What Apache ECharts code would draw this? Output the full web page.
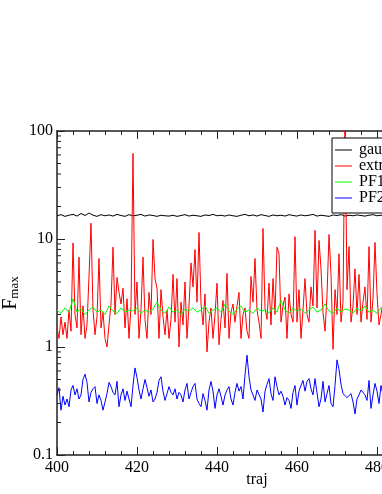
<!DOCTYPE html>
<html><head><meta charset="utf-8">
<script src="https://cdn.jsdelivr.net/npm/echarts@6/dist/echarts.min.js"></script>
<style>html,body{margin:0;padding:0;background:#fff}#c{width:382px;height:494px}</style>
</head><body><div id="c"></div>
<script>
const seriesNames = ['gaussian', 'extreme', 'PF1', 'PF2'];
const xTickLabels = [400, 420, 440, 460, 480, 500];
const yTickLabels = [0.1, 1, 10, 100];
const yMinorTicks = [0.2,0.3,0.4,0.5,0.6,0.7,0.8,0.9,2,3,4,5,6,7,8,9,20,30,40,50,60,70,80,90];
const trajStart = 400;
const stepFine = 0.5;   // red and blue sampled every half traj
const stepCoarse = 1;   // black and green sampled every traj

const gaussian = [16.4,16.8,16.2,16.6,16.9,16.3,17.2,16.5,17.4,16.6,16.2,16.8,16.4,16.7,16.3,16.9,16.5,16.2,16.8,16.4,
16.6,16.9,16.3,16.7,16.5,16.2,16.6,16.4,16.3,16.6,16.2,16.5,16.8,16.3,16.6,16.4,16.2,16.7,16.5,16.9,
16.4,16.6,16.3,16.7,16.4,16.2,16.6,16.9,16.4,16.7,16.3,16.8,16.5,16.2,16.7,16.4,16.6,16.3,16.8,16.5,
16.3,16.7,16.4,16.6,16.9,16.3,16.6,16.4,16.2,16.7,16.5,16.8,16.3,16.6,16.4,16.7,16.5,16.3,16.6,16.8,
16.4,16.6,16.3];

const extreme = [1.5,1.2,1.9,1.3,1.7,1.2,2.2,1.4,9.2,2.0,1.5,6.8,1.3,2.4,1.2,1.6,4.5,14,2.2,1.3,
1.9,6.6,1.5,2.1,1.2,1.0,1.6,2.5,8.4,2.0,4.4,3.2,2.5,3.5,1.5,2.8,1.2,2.4,62,2.0,
4.0,1.2,2.2,6.8,1.8,1.2,3.2,2.0,9.9,4.3,3.5,1.2,3.4,1.9,1.3,2.2,1.2,1.8,4.7,1.7,
4.3,1.0,2.6,1.6,4.0,1.2,2.4,6.0,3.6,8.0,2.6,11.5,2.5,1.6,3.1,0.9,1.7,2.3,1.2,2.0,
3.9,1.05,1.8,2.7,1.5,4.8,1.2,2.1,2.5,1.7,2.4,3.2,1.2,2.0,2.3,1.4,1.2,4.5,2.6,6.6,
2.2,1.7,1.2,12.5,2.3,1.8,3.9,1.6,4.3,2.0,8.4,7.3,1.7,2.4,2.9,1.2,3.1,2.0,1.7,10.5,
1.7,3.4,1.2,2.2,4.3,2.0,1.7,3.6,2.4,12,2.3,9.7,5.3,2.1,1.4,3.0,11,4.7,0.95,3.4,
2.0,7.3,1.7,2.6,150,3.4,8.5,1.7,2.4,5.3,2.0,4.7,1.7,2.6,3.6,1.8,8.5,1.7,2.8,9.3,
3.1,1.6,2.0,2.6,1.8];

const pf1 = [2.2,2.05,2.3,2.1,2.8,2.1,2.25,2.0,2.2,2.35,2.1,2.2,2.0,2.4,2.15,2.05,2.3,2.1,2.2,2.15,
2.3,2.05,2.2,2.1,2.25,2.6,2.2,2.05,2.35,2.1,2.2,2.0,2.25,2.15,2.3,2.1,2.2,2.4,2.05,2.2,
2.3,2.1,2.5,2.15,2.0,2.25,2.4,2.1,2.2,2.05,2.3,2.15,2.2,2.05,2.3,2.1,2.7,2.2,2.05,2.3,
2.15,2.25,2.05,2.2,2.35,2.1,2.2,2.5,2.15,2.05,2.3,2.1,2.25,2.2,2.05,2.3,2.15,2.4,2.1,2.2,
2.05,2.3,2.15];

const pf2 = [0.36,0.42,0.26,0.35,0.29,0.33,0.28,0.40,0.44,0.36,0.41,0.33,0.36,0.50,0.56,0.47,0.31,0.38,0.41,0.43,
0.30,0.36,0.32,0.26,0.31,0.37,0.47,0.43,0.38,0.36,0.48,0.28,0.36,0.41,0.32,0.39,0.33,0.28,0.44,0.64,
0.52,0.40,0.33,0.41,0.50,0.42,0.35,0.40,0.31,0.33,0.38,0.49,0.53,0.39,0.32,0.37,0.43,0.38,0.36,0.41,
0.33,0.38,0.36,0.31,0.40,0.46,0.33,0.38,0.43,0.46,0.33,0.30,0.28,0.37,0.32,0.26,0.40,0.48,0.39,0.27,
0.36,0.41,0.35,0.29,0.36,0.40,0.43,0.33,0.29,0.38,0.46,0.39,0.43,0.33,0.55,0.84,0.53,0.40,0.36,0.32,
0.40,0.41,0.33,0.25,0.39,0.45,0.51,0.37,0.32,0.53,0.43,0.36,0.39,0.35,0.29,0.34,0.32,0.27,0.38,0.44,
0.29,0.39,0.44,0.49,0.39,0.48,0.51,0.41,0.36,0.51,0.53,0.28,0.33,0.48,0.31,0.37,0.44,0.30,0.28,0.44,
0.76,0.62,0.45,0.37,0.36,0.34,0.33,0.37,0.31,0.24,0.33,0.36,0.40,0.41,0.36,0.32,0.49,0.27,0.36,0.46,
0.39,0.30,0.44,0.36,0.33];

const pairs = (arr, step) => arr.map((v, i) => [trajStart + i * step, v]);
const FONT = 'Liberation Serif';

const chart = echarts.init(document.getElementById('c'), null, {renderer: 'canvas'});
const lineSeries = (name, data, color) => ({
  name, type: 'line', data, symbol: 'none', showSymbol: false,
  lineStyle: {color, width: 1}, itemStyle: {color}, clip: true, animation: false
});

chart.setOption({
  animation: false,
  backgroundColor: '#fff',
  grid: {left: 57, top: 131, width: 400, height: 324, outerBoundsMode: 'none', containLabel: false},
  legend: {
    data: seriesNames, orient: 'vertical', left: 332, top: 138,
    icon: 'rect', itemWidth: 17, itemHeight: 1, itemGap: 0,
    backgroundColor: '#fff', borderColor: '#000', borderWidth: 1,
    padding: [4, 6, 7, 3],
    textStyle: {fontFamily: FONT, fontSize: 16, color: '#000', lineHeight: 15, padding: [0, 0, 0, 2]}
  },
  xAxis: [{
    type: 'value', min: 400, max: 500, interval: 20, position: 'bottom',
    name: 'traj', nameLocation: 'middle', nameGap: 25, nameMoveOverlap: false,
    nameTextStyle: {fontFamily: FONT, fontSize: 16, color: '#000', verticalAlign: 'middle'},
    axisLine: {show: true, onZero: false, lineStyle: {color: '#222', width: 1.5}},
    axisTick: {show: true, inside: true, length: 8, lineStyle: {color: '#222'}},
    minorTick: {show: true, splitNumber: 5, length: 4, lineStyle: {color: '#222'}},
    axisLabel: {fontFamily: FONT, fontSize: 16, color: '#000', margin: 5,
      formatter: v => xTickLabels.includes(v) ? String(v) : ''},
    splitLine: {show: false}
  }, {
    type: 'value', min: 400, max: 500, interval: 20, position: 'top',
    axisLine: {show: true, onZero: false, lineStyle: {color: '#222', width: 1.5}},
    axisTick: {show: true, inside: true, length: 8, lineStyle: {color: '#222'}},
    minorTick: {show: true, splitNumber: 5, length: 4, lineStyle: {color: '#222'}},
    axisLabel: {show: false}, splitLine: {show: false}
  }],
  yAxis: {
    type: 'log', logBase: 10, min: 0.1, max: 100,
    name: '{a|F}{b|max}', nameLocation: 'middle', nameGap: 36, nameRotate: 90, nameMoveOverlap: false,
    nameTextStyle: {rich: {
      a: {fontFamily: FONT, fontSize: 20, color: '#000'},
      b: {fontFamily: FONT, fontSize: 13, color: '#000', verticalAlign: 'bottom', padding: [8, 0, 0, 0]}
    }},
    axisLine: {show: true, onZero: false, lineStyle: {color: '#222', width: 1.5}},
    axisTick: {show: true, inside: true, length: 8, lineStyle: {color: '#222'}},
    axisLabel: {fontFamily: FONT, fontSize: 16, color: '#000', margin: 4,
      formatter: v => { const r = +(+v).toPrecision(3); return yTickLabels.includes(r) ? String(r) : ''; }},
    splitLine: {show: false}
  },
  series: [
    lineSeries('gaussian', pairs(gaussian, stepCoarse), '#000000'),
    lineSeries('extreme', pairs(extreme, stepFine), '#ff0000'),
    lineSeries('PF1', pairs(pf1, stepCoarse), '#00ff00'),
    lineSeries('PF2', pairs(pf2, stepFine), '#0000ff'),
    {
      type: 'custom', silent: true, z: 5, animation: false, clip: false,
      data: yMinorTicks.map(v => [400, v]),
      renderItem: (params, api) => {
        const p = api.coord([api.value(0), api.value(1)]);
        return {type: 'line', shape: {x1: p[0], y1: p[1], x2: p[0] + 4, y2: p[1]},
          style: {stroke: '#222', lineWidth: 1}};
      }
    }
  ]
});
</script>
</body></html>
